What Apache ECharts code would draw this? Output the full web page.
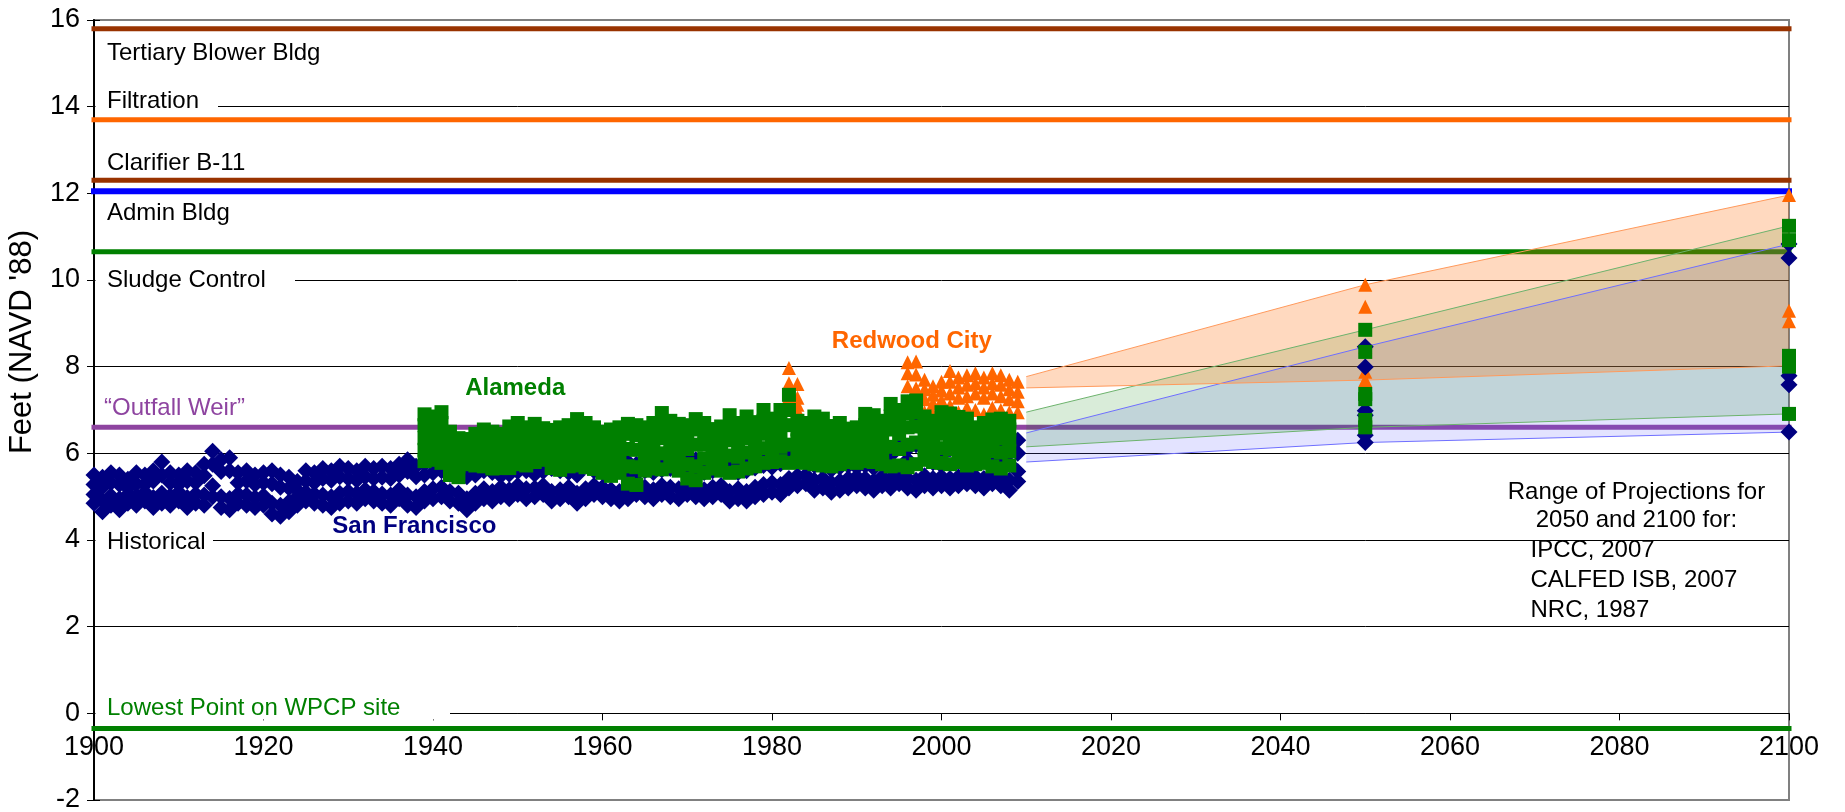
<!DOCTYPE html>
<html>
<head>
<meta charset="utf-8">
<script src="https://cdn.jsdelivr.net/npm/echarts@6.0.0/dist/echarts.min.js"></script>
<style>
html,body{margin:0;padding:0;background:#fff;}
#chart{width:1845px;height:812px;}
</style>
</head>
<body>
<div id="chart"></div>
<script>
// ================= DATA =================
const xTickYears = [1900, 1920, 1940, 1960, 1980, 2000, 2020, 2040, 2060, 2080, 2100];
const yTickValues = [-2, 0, 2, 4, 6, 8, 10, 12, 14, 16];

// San Francisco historical (1900-2009), four readings per year
const sfStartYear = 1900;
const sfRow1 = [
 5.50,5.45,5.55,5.50,5.40,5.55,5.50,5.60,5.80,5.55,
 5.50,5.60,5.55,5.75,6.05,5.85,5.90,5.55,5.60,5.50,
 5.55,5.60,5.50,5.45,5.35,5.60,5.55,5.65,5.60,5.70,
 5.65,5.60,5.70,5.65,5.70,5.65,5.75,5.85,5.70,5.75,
 5.80,5.85,5.75,5.80,5.70,5.75,5.85,5.80,5.70,5.75,
 5.80,5.85,5.75,5.80,5.90,5.85,5.80,5.75,5.95,5.85,
 5.80,5.75,5.85,5.80,5.75,5.85,5.80,5.85,5.90,5.95,
 5.90,5.85,5.80,5.85,5.90,5.85,5.80,5.85,5.90,5.95,
 5.90,6.00,6.10,6.30,6.10,5.95,5.90,5.85,5.90,5.95,
 5.90,5.95,5.90,6.00,5.95,6.70,6.10,6.70,6.60,6.00,
 5.95,6.60,6.10,6.00,6.05,6.15,6.20,6.05,6.00,6.30
];
const sfRow2 = [
 5.28,5.22,5.32,5.28,5.20,5.30,5.28,5.36,5.50,5.32,
 5.28,5.36,5.32,5.48,5.75,5.58,5.60,5.32,5.36,5.28,
 5.32,5.30,5.22,5.20,5.15,5.36,5.32,5.42,5.38,5.46,
 5.42,5.38,5.46,5.42,5.45,5.42,5.50,5.58,5.46,5.50,
 5.55,5.60,5.52,5.56,5.46,5.50,5.60,5.56,5.48,5.52,
 5.58,5.60,5.52,5.58,5.65,5.60,5.56,5.50,5.70,5.60,
 5.56,5.52,5.60,5.56,5.52,5.60,5.56,5.62,5.65,5.70,
 5.66,5.60,5.56,5.60,5.66,5.60,5.56,5.60,5.66,5.72,
 5.68,5.76,5.86,6.00,5.85,5.72,5.68,5.62,5.68,5.72,
 5.68,5.72,5.66,5.78,5.72,6.20,5.85,6.20,6.15,5.78,
 5.72,6.10,5.85,5.78,5.82,5.90,5.95,5.82,5.76,6.00
];
const sfRow3 = [
 5.05,4.90,5.02,4.95,5.05,5.02,5.10,4.98,5.08,5.02,
 5.10,4.98,5.06,5.04,5.25,5.00,4.96,5.06,5.04,4.98,
 5.02,4.85,4.80,4.88,5.00,5.10,5.06,5.04,5.00,5.08,
 5.12,5.08,5.16,5.12,5.06,5.04,5.16,5.04,5.00,5.12,
 5.18,5.22,5.12,5.08,4.95,5.08,5.18,5.12,5.22,5.16,
 5.26,5.18,5.20,5.26,5.12,5.16,5.22,5.08,5.18,5.26,
 5.22,5.16,5.12,5.16,5.26,5.22,5.16,5.26,5.22,5.18,
 5.26,5.22,5.16,5.22,5.26,5.12,5.18,5.12,5.22,5.28,
 5.32,5.28,5.42,5.48,5.50,5.38,5.42,5.32,5.36,5.42,
 5.46,5.42,5.36,5.46,5.42,5.52,5.42,5.38,5.48,5.42,
 5.46,5.42,5.46,5.52,5.46,5.42,5.52,5.46,5.38,5.58
];
const sfRow4 = [
 4.85,4.65,4.80,4.70,4.85,4.80,4.90,4.75,4.85,4.80,
 4.90,4.75,4.85,4.80,5.00,4.75,4.70,4.85,4.80,4.75,
 4.80,4.60,4.55,4.65,4.80,4.90,4.85,4.80,4.75,4.85,
 4.90,4.85,4.95,4.90,4.85,4.80,4.95,4.80,4.75,4.90,
 4.95,5.00,4.90,4.85,4.70,4.85,4.95,4.90,5.00,4.95,
 5.05,4.95,5.00,5.05,4.90,4.95,5.00,4.85,4.95,5.05,
 5.00,4.95,4.90,4.95,5.05,5.00,4.95,5.05,5.00,4.95,
 5.05,5.00,4.95,5.00,5.05,4.90,4.95,4.90,5.00,5.05,
 5.10,5.05,5.20,5.25,5.30,5.15,5.20,5.10,5.15,5.20,
 5.25,5.20,5.15,5.25,5.20,5.30,5.20,5.15,5.25,5.20,
 5.25,5.20,5.25,5.30,5.25,5.20,5.30,5.25,5.15,5.35
];

// Alameda historical (1939-2008), five readings per year
const alStartYear = 1939;
const alRow1 = [
 6.90,6.85,6.95,6.50,6.35,6.33,6.45,6.55,6.50,6.45,
 6.62,6.70,6.60,6.68,6.58,6.54,6.60,6.65,6.79,6.70,
 6.60,6.50,6.55,6.60,6.68,6.65,6.60,6.70,6.93,6.75,
 6.68,6.65,6.79,6.70,6.56,6.62,6.88,6.70,6.85,6.72,
 7.00,6.80,7.00,7.35,6.75,6.70,6.85,6.80,6.63,6.70,
 6.57,6.60,6.91,6.88,6.75,7.14,7.00,7.20,7.22,6.85,
 6.75,6.95,6.92,6.84,6.80,6.60,6.70,6.78,6.80,6.75
];
const alRow2 = [
 6.65,6.60,6.70,6.30,6.20,6.18,6.25,6.35,6.30,6.28,
 6.40,6.45,6.40,6.48,6.42,6.35,6.40,6.45,6.55,6.50,
 6.40,6.30,6.35,6.40,6.45,6.42,6.40,6.48,6.65,6.55,
 6.45,6.42,6.55,6.50,6.38,6.42,6.60,6.50,6.62,6.52,
 6.75,6.60,6.72,7.00,6.55,6.50,6.62,6.60,6.45,6.50,
 6.40,6.42,6.65,6.62,6.55,6.85,6.75,6.92,6.95,6.62,
 6.55,6.70,6.68,6.62,6.58,6.42,6.50,6.58,6.60,6.55
];
const alRow3 = [
 6.35,6.30,6.40,6.05,5.95,6.00,6.05,6.10,6.05,6.05,
 6.15,6.20,6.15,6.25,6.22,6.10,6.15,6.20,6.30,6.25,
 6.15,6.05,6.05,6.10,6.10,6.08,6.15,6.22,6.35,6.28,
 6.15,6.10,6.20,6.20,6.12,6.15,6.30,6.22,6.35,6.28,
 6.45,6.35,6.45,6.65,6.30,6.25,6.35,6.32,6.20,6.25,
 6.15,6.20,6.40,6.38,6.30,6.55,6.45,6.60,6.62,6.38,
 6.30,6.45,6.42,6.38,6.32,6.20,6.28,6.32,6.35,6.32
];
const alRow4 = [
 6.08,6.05,6.10,5.78,5.70,5.88,5.90,5.90,5.85,5.85,
 5.90,5.98,5.92,6.02,6.05,5.88,5.88,5.95,6.02,5.98,
 5.90,5.80,5.75,5.82,5.70,5.68,5.88,5.95,6.00,6.00,
 5.88,5.75,5.70,5.88,5.90,5.88,5.95,5.92,6.02,6.00,
 6.12,6.08,6.15,6.20,6.05,6.00,6.05,6.02,5.95,6.00,
 6.00,5.98,6.12,6.10,6.02,6.15,6.10,6.20,6.25,6.12,
 6.05,6.12,6.10,6.10,6.02,5.98,6.02,6.05,6.02,6.05
];
const alRow5 = [
 5.82,5.85,5.78,5.50,5.45,5.75,5.72,5.70,5.65,5.66,
 5.66,5.75,5.72,5.80,5.85,5.66,5.62,5.70,5.72,5.68,
 5.64,5.55,5.48,5.55,5.30,5.27,5.60,5.65,5.63,5.70,
 5.60,5.42,5.38,5.55,5.65,5.60,5.55,5.58,5.65,5.70,
 5.78,5.80,5.82,5.78,5.80,5.78,5.75,5.72,5.70,5.75,
 5.80,5.78,5.82,5.80,5.75,5.70,5.72,5.68,5.75,5.85,
 5.80,5.78,5.75,5.80,5.72,5.75,5.78,5.70,5.65,5.72
];

// Redwood City historical, four readings per year
const rcYears = [1982,1983,1996,1997,1998,1999,2000,2001,2002,2003,2004,2005,2006,2007,2008,2009];
const rcRow1 = [7.97,7.60,8.10,8.12,7.70,7.55,7.65,7.90,7.75,7.80,7.85,7.75,7.85,7.80,7.70,7.65];
const rcRow2 = [7.62,7.28,7.85,7.82,7.48,7.35,7.45,7.65,7.52,7.58,7.62,7.52,7.62,7.58,7.48,7.42];
const rcRow3 = [7.30,7.12,7.55,7.50,7.25,7.15,7.22,7.38,7.28,7.32,7.38,7.28,7.38,7.32,7.25,7.20];
const rcRow4 = [7.05,6.98,7.20,7.15,6.95,6.90,7.00,7.10,6.95,7.05,7.00,6.90,7.05,7.00,6.95,6.95];

// Projections for 2050 and 2100
const sfProj2050 = [8.46, 7.99, 6.98, 6.88, 6.42, 6.25];
const sfProj2100 = [10.83, 10.51, 7.79, 7.58, 6.49];
const alProj2050 = [8.85, 8.34, 7.37, 7.25, 6.77, 6.60];
const alProj2100 = [11.25, 10.92, 8.25, 8.00, 6.91];
const rcProj2050 = [9.89, 9.38, 8.46, 7.88, 7.69];
const rcProj2100 = [11.96, 9.29, 9.05, 8.02];

// Projection range bands
const bandYears = [2010, 2050, 2100];
const sfBandLow  = [5.80, 6.25, 6.49];
const sfBandHigh = [6.47, 8.46, 10.83];
const alBandLow  = [6.15, 6.60, 6.91];
const alBandHigh = [6.95, 8.85, 11.25];
const rcBandLow  = [7.51, 7.69, 8.02];
const rcBandHigh = [7.77, 9.89, 11.96];

// Facility elevations (ft NAVD '88)
const elevNames  = ['Tertiary Blower Bldg','Filtration','Clarifier B-11','Admin Bldg','Sludge Control','Outfall Weir','Lowest Point on WPCP site'];
const elevValues = [15.8, 13.7, 12.3, 12.05, 10.65, 6.6, -0.35];

// ================= STYLE / LAYOUT =================
const FONT = '"Liberation Sans", Arial, Helvetica, sans-serif';
const elevColors = ['#993300','#FF6600','#993300','#0000FF','#008000','#8E44A0','#008000'];
const elevWidths = [5, 5, 5, 6, 5, 5, 5];
const C_SF = '#000080', C_AL = '#008000', C_RC = '#FF6600';
const GRID = {left: 94, right: 56, top: 20, bottom: 12};
const W = 1845, H = 812;
const yMin = yTickValues[0], yMax = yTickValues[yTickValues.length - 1];
const plotH = H - GRID.top - GRID.bottom;
const zeroOffset = -(0 - yMin) / (yMax - yMin) * plotH; // move x axis up to the y = 0 line

const chart = echarts.init(document.getElementById('chart'), null, {renderer: 'canvas'});

function seqRows(start, rows) {
  const out = [];
  rows.forEach(r => r.forEach((v, i) => out.push([start + i, v])));
  return out;
}
function yearRows(years, rows) {
  const out = [];
  rows.forEach(r => r.forEach((v, i) => out.push([years[i], v])));
  return out;
}
function projRows(p50, p100) {
  return p50.map(v => [2050, v]).concat(p100.map(v => [2100, v]));
}

const sfData = seqRows(sfStartYear, [sfRow1, sfRow2, sfRow3, sfRow4]).concat(projRows(sfProj2050, sfProj2100));
const alData = seqRows(alStartYear, [alRow1, alRow2, alRow3, alRow4, alRow5]).concat(projRows(alProj2050, alProj2100));
const rcData = yearRows(rcYears, [rcRow1, rcRow2, rcRow3, rcRow4]).concat(projRows(rcProj2050, rcProj2100));

function band(key, low, high, lineColor, fill) {
  const data = bandYears.map((y, i) => [y, low[i], high[i]]);
  return [
    {type: 'custom', name: key + 'Band', data: data, encode: {x: 0, y: [1, 2]}, z: 3, silent: true, clip: false,
     renderItem: function (params, api) {
       if (params.dataIndex !== 0) return null;
       const pts = [];
       data.forEach(d => pts.push(api.coord([d[0], d[1]])));
       for (let i = data.length - 1; i >= 0; i--) pts.push(api.coord([data[i][0], data[i][2]]));
       return {type: 'polygon', shape: {points: pts}, style: {fill: fill, stroke: null}};
     }},
    {type: 'line', name: key + 'Low', data: bandYears.map((y, i) => [y, low[i]]),
     symbol: 'none', lineStyle: {color: lineColor, width: 1}, z: 3, silent: true, clip: false},
    {type: 'line', name: key + 'High', data: bandYears.map((y, i) => [y, high[i]]),
     symbol: 'none', lineStyle: {color: lineColor, width: 1}, z: 3, silent: true, clip: false}
  ];
}

const series = [];
elevValues.forEach((v, i) => {
  series.push({
    type: 'line', name: elevNames[i], data: [[1900, v], [2100, v]], symbol: 'none',
    lineStyle: {color: elevColors[i], width: elevWidths[i], cap: 'square'},
    z: 2, silent: true, clip: false
  });
});
series.push(...band('sf', sfBandLow, sfBandHigh, '#6F6FFF', 'rgba(102,102,255,0.18)'));
series.push(...band('al', alBandLow, alBandHigh, '#6DB36D', 'rgba(0,128,0,0.15)'));
series.push(...band('rc', rcBandLow, rcBandHigh, '#FF9A5C', 'rgba(255,102,0,0.25)'));
series.push({type: 'scatter', name: 'Redwood City', data: rcData, symbol: 'triangle', symbolSize: 14,
  itemStyle: {color: C_RC, opacity: 1}, z: 4, silent: true, clip: false});
series.push({type: 'scatter', name: 'San Francisco', data: sfData, symbol: 'diamond', symbolSize: 17,
  itemStyle: {color: C_SF, opacity: 1}, z: 4, silent: true, clip: false});
series.push({type: 'scatter', name: 'Alameda', data: alData, symbol: 'rect', symbolSize: 14,
  itemStyle: {color: C_AL, opacity: 1}, z: 4, silent: true, clip: false});

const splitColors = yTickValues.map((v, i) => (i === 0 || i === yTickValues.length - 1) ? '#808080' : '#000000');

const option = {
  animation: false,
  backgroundColor: '#ffffff',
  grid: Object.assign({show: true, borderColor: '#808080', borderWidth: 2, backgroundColor: '#ffffff',
    containLabel: false, outerBoundsMode: 'none'}, GRID),
  xAxis: {
    type: 'value', min: xTickYears[0], max: xTickYears[xTickYears.length - 1], interval: 20,
    position: 'bottom', offset: zeroOffset,
    axisLine: {show: true, onZero: false, lineStyle: {color: '#000', width: 1}},
    axisTick: {show: true, length: 7, lineStyle: {color: '#000'}},
    axisLabel: {fontSize: 27, fontFamily: FONT, color: '#000', margin: 21, showMinLabel: true, showMaxLabel: true,
      formatter: v => String(v)},
    splitLine: {show: false}
  },
  yAxis: [{
    type: 'value', min: yMin, max: yMax, interval: 2,
    axisLine: {show: true, lineStyle: {color: '#000', width: 2}},
    axisTick: {show: true, length: 7, lineStyle: {color: '#000'}},
    axisLabel: {fontSize: 27, fontFamily: FONT, color: '#000', margin: 14},
    splitLine: {show: true, lineStyle: {color: splitColors, width: 1}}
  }, {
    type: 'value', min: yMin, max: yMax, interval: 2, position: 'left',
    axisLine: {show: false}, axisLabel: {show: false}, splitLine: {show: false},
    axisTick: {show: true, inside: true, length: 6, lineStyle: {color: '#000'}}
  }],
  series: series
};
chart.setOption(option);

// ---------- annotations positioned through the chart's scales ----------
const P = (x, y) => chart.convertToPixel({gridIndex: 0}, [x, y]);
const axisX = P(1900, 0)[0];

const annotations = [
  // text, y-value of text centre, colour, width of white box from axis (0 = none), x offset
  ['Tertiary Blower Bldg', 15.24, '#000', 0, 13],
  ['Filtration', 14.12, '#000', 124, 13],
  ['Clarifier B-11', 12.68, '#000', 0, 13],
  ['Admin Bldg', 11.53, '#000', 0, 13],
  ['Sludge Control', 10.0, '#000', 201, 13],
  ['\u201COutfall Weir\u201D', 7.04, '#8E44A0', 0, 10],
  ['Historical', 3.95, '#000', 119, 13],
  ['Lowest Point on WPCP site', 0.11, '#008000', 356, 13]
];
const seriesLabels = [
  ['Alameda', 1949.7, 7.49, C_AL],
  ['Redwood City', 1996.5, 8.59, C_RC],
  ['San Francisco', 1937.8, 4.32, C_SF]
];
const noteCentre = ['Range of Projections for', '2050 and 2100 for:'];
const noteList = ['IPCC, 2007', 'CALFED ISB, 2007', 'NRC, 1987'];

const g = [];
annotations.forEach(a => {
  const yc = P(1900, a[1])[1];
  if (a[3] > 0) {
    g.push({type: 'rect', z: 95, shape: {x: axisX + 1.5, y: yc - 12, width: a[3] - 1.5, height: 23}, style: {fill: '#fff'}});
  }
  g.push({type: 'text', z: 100, x: axisX + a[4], y: yc,
    style: {text: a[0], fill: a[2], font: '24px ' + FONT, align: 'left', verticalAlign: 'middle', textAlign: 'left', textVerticalAlign: 'middle'}});
});
seriesLabels.forEach(s => {
  const p = P(s[1], s[2]);
  g.push({type: 'text', z: 100, x: p[0], y: p[1],
    style: {text: s[0], fill: s[3], font: 'bold 24px ' + FONT, align: 'center', verticalAlign: 'middle', textAlign: 'center', textVerticalAlign: 'middle'}});
});
const noteX = P(2082, 0)[0];
const noteY0 = P(2082, 5.09)[1];
noteCentre.forEach((t, i) => {
  g.push({type: 'text', z: 100, x: noteX, y: noteY0 + i * 28,
    style: {text: t, fill: '#000', font: '24px ' + FONT, align: 'center', verticalAlign: 'middle', textAlign: 'center', textVerticalAlign: 'middle'}});
});
const listX = P(2069.5, 0)[0];
const listY0 = P(2069.5, 3.75)[1];
noteList.forEach((t, i) => {
  g.push({type: 'text', z: 100, x: listX, y: listY0 + i * 30,
    style: {text: t, fill: '#000', font: '24px ' + FONT, align: 'left', verticalAlign: 'middle', textAlign: 'left', textVerticalAlign: 'middle'}});
});
g.push({type: 'text', z: 100, x: 22, y: 342, rotation: Math.PI / 2,
  style: {text: "Feet (NAVD '88)", fill: '#000', font: '31px ' + FONT, align: 'center', verticalAlign: 'middle', textAlign: 'center', textVerticalAlign: 'middle'}});

chart.setOption({graphic: {elements: g}});
</script>
</body>
</html>
